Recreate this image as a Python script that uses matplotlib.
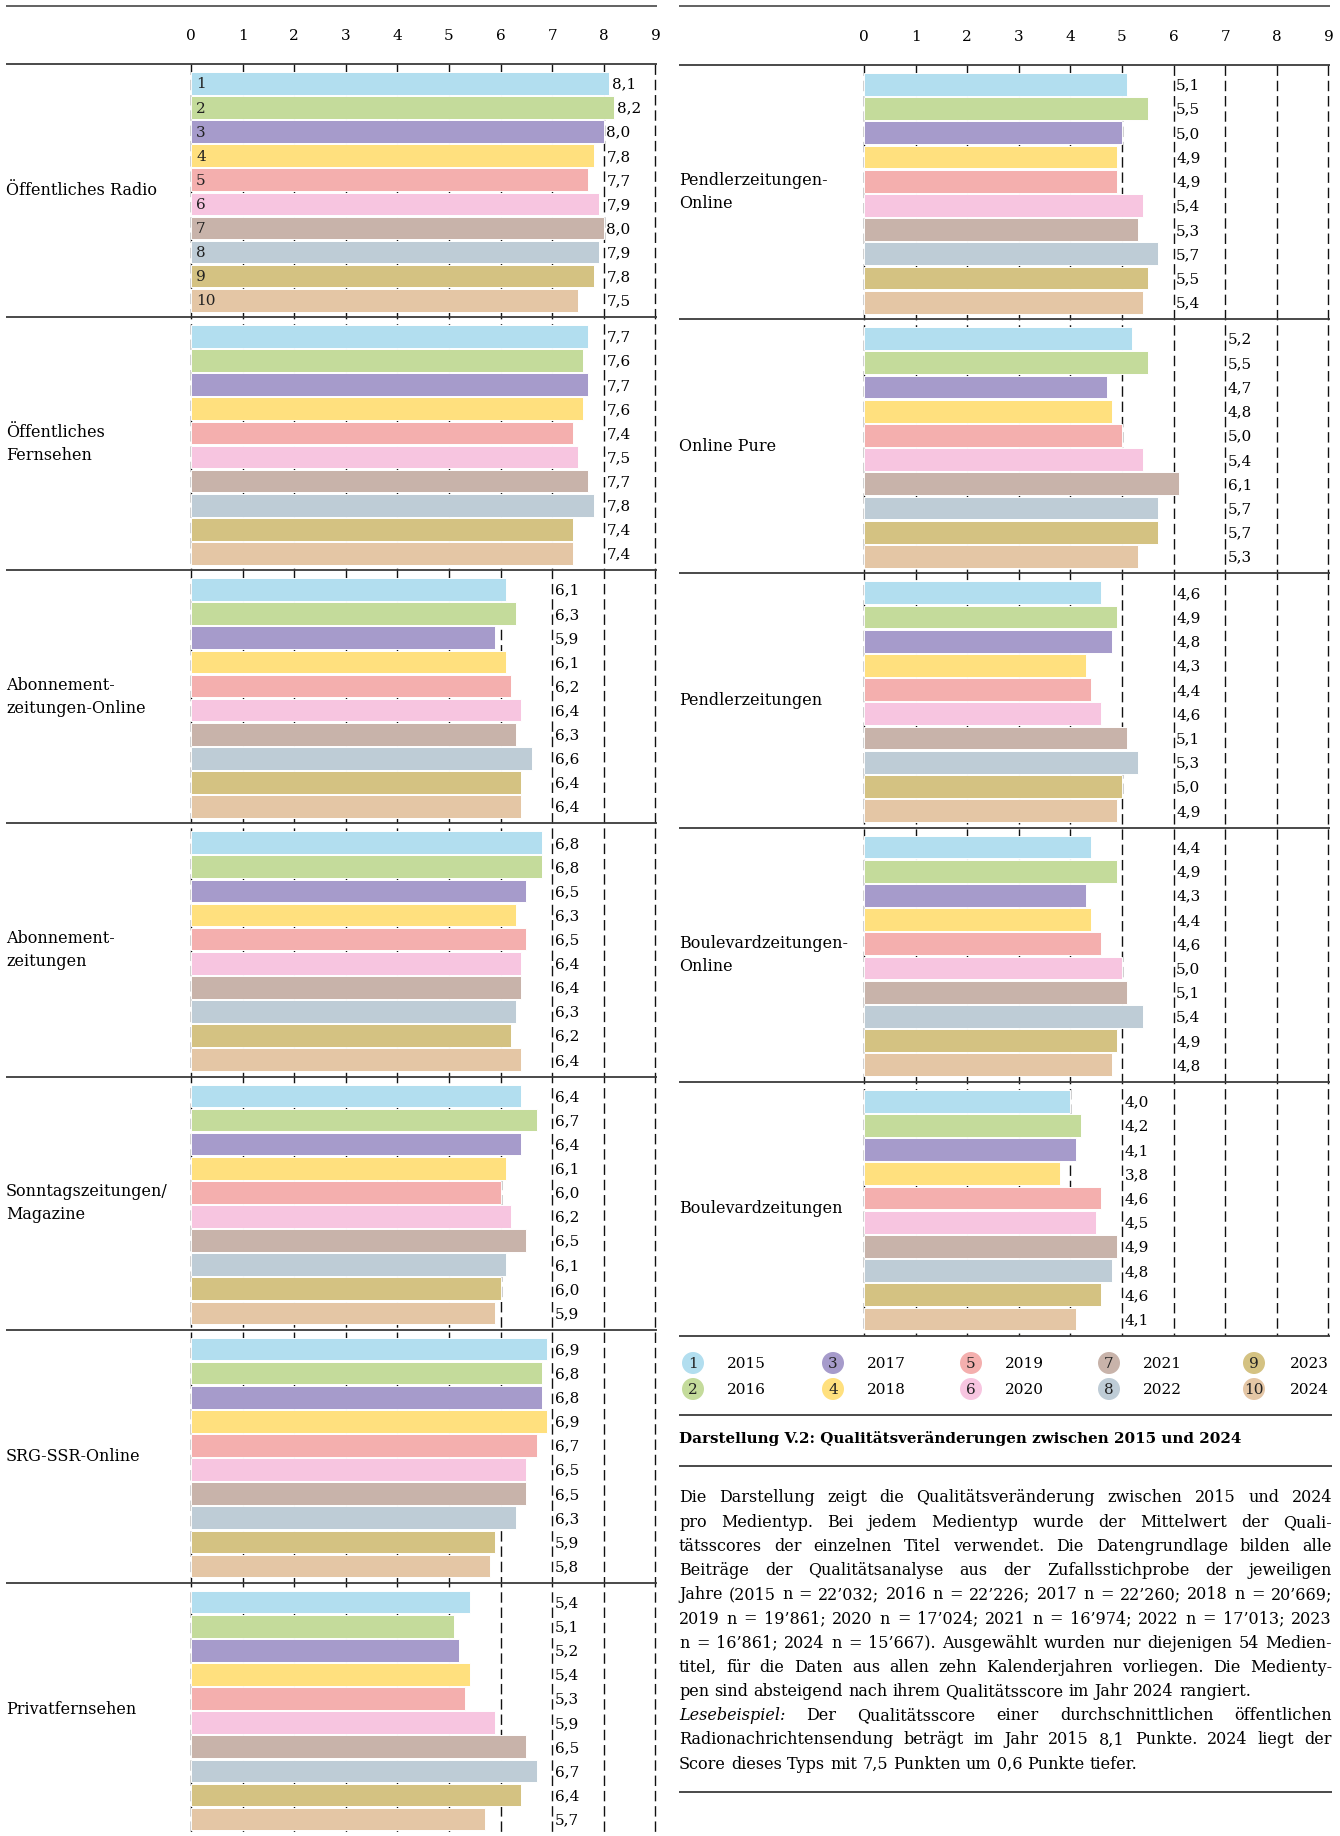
import math
import numpy as np
import matplotlib
matplotlib.use("Agg")
import matplotlib.pyplot as plt
from matplotlib.patches import Circle

plt.rcParams['font.family'] = ['DejaVu Serif', 'DejaVu Sans']

# --- data -------------------------------------------------------------
years = ["2015", "2016", "2017", "2018", "2019", "2020", "2021", "2022", "2023", "2024"]
colors = ["#B2DEEF", "#C4DB9B", "#A69BCB", "#FFE07E", "#F4AFAE",
          "#F7C5E0", "#C8B3AA", "#BECCD6", "#D4C282", "#E4C6A5"]

left_labels = ["Öffentliches Radio", "Öffentliches\nFernsehen", "Abonnement-\nzeitungen-Online",
               "Abonnement-\nzeitungen", "Sonntagszeitungen/\nMagazine", "SRG-SSR-Online",
               "Privatfernsehen"]
radio = [8.1, 8.2, 8.0, 7.8, 7.7, 7.9, 8.0, 7.9, 7.8, 7.5]
tv_public = [7.7, 7.6, 7.7, 7.6, 7.4, 7.5, 7.7, 7.8, 7.4, 7.4]
abo_online = [6.1, 6.3, 5.9, 6.1, 6.2, 6.4, 6.3, 6.6, 6.4, 6.4]
abo = [6.8, 6.8, 6.5, 6.3, 6.5, 6.4, 6.4, 6.3, 6.2, 6.4]
sonntag = [6.4, 6.7, 6.4, 6.1, 6.0, 6.2, 6.5, 6.1, 6.0, 5.9]
srg_online = [6.9, 6.8, 6.8, 6.9, 6.7, 6.5, 6.5, 6.3, 5.9, 5.8]
tv_private = [5.4, 5.1, 5.2, 5.4, 5.3, 5.9, 6.5, 6.7, 6.4, 5.7]
left_values = [radio, tv_public, abo_online, abo, sonntag, srg_online, tv_private]

right_labels = ["Pendlerzeitungen-\nOnline", "Online Pure", "Pendlerzeitungen",
                "Boulevardzeitungen-\nOnline", "Boulevardzeitungen"]
pendler_online = [5.1, 5.5, 5.0, 4.9, 4.9, 5.4, 5.3, 5.7, 5.5, 5.4]
online_pure = [5.2, 5.5, 4.7, 4.8, 5.0, 5.4, 6.1, 5.7, 5.7, 5.3]
pendler = [4.6, 4.9, 4.8, 4.3, 4.4, 4.6, 5.1, 5.3, 5.0, 4.9]
boulevard_online = [4.4, 4.9, 4.3, 4.4, 4.6, 5.0, 5.1, 5.4, 4.9, 4.8]
boulevard = [4.0, 4.2, 4.1, 3.8, 4.6, 4.5, 4.9, 4.8, 4.6, 4.1]
right_values = [pendler_online, online_pure, pendler, boulevard_online, boulevard]

ticks = list(range(10))

title = "Darstellung V.2: Qualitätsveränderungen zwischen 2015 und 2024"
paragraph = [
    ("Die Darstellung zeigt die Qualitätsveränderung zwischen 2015 und 2024", False),
    ("pro Medientyp. Bei jedem Medientyp wurde der Mittelwert der Quali-", False),
    ("tätsscores der einzelnen Titel verwendet. Die Datengrundlage bilden alle", False),
    ("Beiträge der Qualitätsanalyse aus der Zufallsstichprobe der jeweiligen", False),
    ("Jahre (2015 n = 22’032; 2016 n = 22’226; 2017 n = 22’260; 2018 n = 20’669;", False),
    ("2019 n = 19’861; 2020 n = 17’024; 2021 n = 16’974; 2022 n = 17’013; 2023", False),
    ("n = 16’861; 2024 n = 15’667). Ausgewählt wurden nur diejenigen 54 Medien-", False),
    ("titel, für die Daten aus allen zehn Kalenderjahren vorliegen. Die Medienty-", False),
    ("pen sind absteigend nach ihrem Qualitätsscore im Jahr 2024 rangiert.", True),
    ("Lesebeispiel: Der Qualitätsscore einer durchschnittlichen öffentlichen", False),
    ("Radionachrichtensendung beträgt im Jahr 2015 8,1 Punkte. 2024 liegt der", False),
    ("Score dieses Typs mit 7,5 Punkten um 0,6 Punkte tiefer.", True),
]

# --- layout -------------------------------------------------------------
W, H = 1340, 1836
fig = plt.figure(figsize=(W / 100, H / 100), dpi=100)
FS = 11.5
GROUP_H = 10.5
XMIN, XMAX = -3.585, 9.03


def px_axes(left, top, width, height):
    return fig.add_axes([left / W, 1 - (top + height) / H, width / W, height / H])


def draw_panel(ax, labels, values, n_groups, rule_top_units, bottom_rule):
    total = n_groups * GROUP_H
    ax.set_xlim(XMIN, XMAX)
    ax.set_ylim(total, 0)
    ax.axis('off')

    # dashed grid lines
    ax.vlines(ticks, 0, total, colors="#111111", linestyles=(0, (7.5, 3.5)),
              lw=1.0, zorder=1)
    for t in ticks:
        ax.text(t, -1.15, str(t), ha='center', va='center', fontsize=FS - 0.5, clip_on=False)

    # rules
    ax.plot([XMIN, XMAX], [rule_top_units, rule_top_units], color="#555555", lw=1.3,
            clip_on=False, solid_capstyle='butt')
    for g in range(n_groups + (1 if bottom_rule else 0)):
        ax.plot([XMIN, XMAX], [g * GROUP_H, g * GROUP_H], color="#3a3a3a", lw=1.3,
                clip_on=False, zorder=3, solid_capstyle='butt')

    for g, (lab, vals) in enumerate(zip(labels, values)):
        y0 = g * GROUP_H + 0.3
        ys = y0 + 0.5 + np.arange(len(vals))
        ax.barh(ys, vals, height=0.94, color=colors, edgecolor="white", lw=0.7, zorder=2)
        col = min(math.ceil(max(vals)), 8)
        for y, v in zip(ys, vals):
            ax.text(max(v, col) + 0.05, y + 0.05, f"{v:.1f}".replace(".", ","),
                    ha='left', va='center', fontsize=FS - 0.5, zorder=4)
        ax.text(XMIN + 0.0, g * GROUP_H + GROUP_H / 2, lab, ha='left', va='center',
                fontsize=FS, linespacing=1.45)
    return ax


left_ax = px_axes(6, 64, 651, H - 64)
draw_panel(left_ax, left_labels, left_values, 7, -(64 - 6) / (1772 / 73.5), False)
# year numbers inside the first group's bars
for i in range(10):
    left_ax.text(0.1, 0.3 + 0.5 + i + 0.05, str(i + 1), ha='left', va='center',
                 fontsize=FS - 0.5, color="#222222", zorder=4)

right_ax = px_axes(679, 65, 651, 1271)
draw_panel(right_ax, right_labels, right_values, 5, -(65 - 6) / (1271 / 52.5), True)

# --- overlay for legend, title, text -------------------------------------
ov = fig.add_axes([0, 0, 1, 1])
ov.set_xlim(0, W)
ov.set_ylim(H, 0)
ov.axis('off')

leg_cx = [693, 833, 971, 1109, 1254]
leg_tx = [727, 867, 1005, 1143, 1290]
leg_y = [1363, 1389]
for k in range(10):
    c, r = divmod(k, 2)
    ov.add_patch(Circle((leg_cx[c], leg_y[r]), 11, color=colors[k], lw=0))
    ov.text(leg_cx[c], leg_y[r] + 1, str(k + 1), ha='center', va='center',
            fontsize=FS - 0.5, color="#222222")
    ov.text(leg_tx[c], leg_y[r] + 1, years[k], ha='left', va='center', fontsize=FS - 0.5)

for yy in [1415, 1466, 1792]:
    ov.plot([679, 1332], [yy, yy], color="#3a3a3a", lw=1.3, solid_capstyle='butt')

ov.text(679, 1439, title, ha='left', va='center', fontsize=FS - 0.6, fontweight='bold')

renderer = fig.canvas.get_renderer()
X0, X1 = 679, 1332


def text_width(s, style='normal'):
    t = ov.text(0, 0, s, fontsize=FS, style=style)
    w = t.get_window_extent(renderer=renderer).width
    t.remove()
    return w


SPACE = text_width("a a") - text_width("aa")


def justify(line, y, last):
    words = line.split(" ")
    arts = []
    for w in words:
        style = 'italic' if w == "Lesebeispiel:" else 'normal'
        arts.append(ov.text(0, y, w, ha='left', va='center', fontsize=FS, style=style))
    widths = [a.get_window_extent(renderer=renderer).width for a in arts]
    if last or len(words) == 1:
        gap = SPACE
    else:
        gap = (X1 - X0 - sum(widths)) / (len(words) - 1)
    x = X0
    for a, w in zip(arts, widths):
        a.set_x(x)
        x += w + gap


for i, (line, last) in enumerate(paragraph):
    justify(line, 1498 + i * 24.2, last)

fig.savefig("out.png", dpi=100)
